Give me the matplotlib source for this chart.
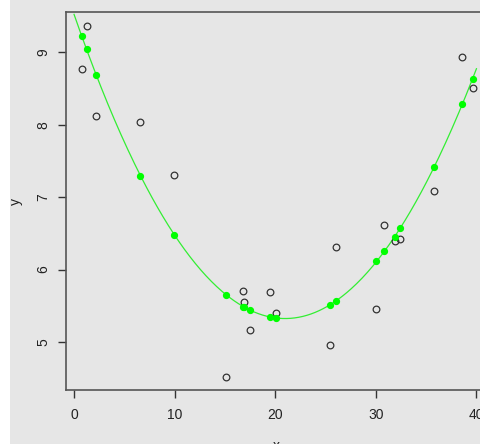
import numpy as np
import matplotlib
matplotlib.use("Agg")
import matplotlib.pyplot as plt
from matplotlib.patches import Rectangle

BG = "#e6e6e6"
AXIS_COLOR = "#555555"
TEXT_COLOR = "#222222"

# observed points (open circles)
x_obs = [0.76, 1.26, 2.22, 6.59, 9.97, 15.11, 16.83, 16.87, 17.50, 19.51,
         20.11, 25.42, 26.07, 30.05, 30.82, 31.88, 32.44, 35.79, 38.60, 39.63]
y_obs = [8.765, 9.363, 8.124, 8.033, 7.309, 4.519, 5.703, 5.551, 5.160, 5.685,
         5.399, 4.957, 6.311, 5.459, 6.611, 6.394, 6.417, 7.080, 8.935, 8.503]

# fitted values (filled green points)
y_fit = [9.221, 9.046, 8.682, 7.296, 6.477, 5.652, 5.490, 5.482, 5.441, 5.340,
         5.330, 5.511, 5.569, 6.113, 6.251, 6.453, 6.577, 7.412, 8.282, 8.635]

x_ticks = [0, 10, 20, 30, 40]
y_ticks = [5, 6, 7, 8, 9]

plt.rcParams["font.family"] = ["Liberation Sans", "DejaVu Sans"]

fig = plt.figure(figsize=(4.8, 4.44), dpi=100)
fig.patch.set_facecolor(BG)
# white strip down the left edge
fig.patches.append(Rectangle((0, 0), 10 / 480, 1, transform=fig.transFigure,
                             facecolor="white", edgecolor="none", zorder=0))

ax = fig.add_axes([66 / 480, 54 / 444, 421 / 480, 378 / 444])
ax.set_facecolor(BG)

# quadratic fit of the observed points, drawn as a smooth line
coef = np.polyfit(x_obs, y_obs, 2)
xs = np.linspace(0, 40, 300)
ax.plot(xs, np.polyval(coef, xs), color="#33ee33", lw=0.9, zorder=2)

ax.plot(x_obs, y_obs, "o", ms=4.8, mfc="none", mec="#333333", mew=0.9,
        zorder=3)
ax.plot(x_obs, y_fit, "o", ms=4.2, color="#00ff00", mec="#00ff00", zorder=4)

ax.set_xlim(-0.8, 41.05)
ax.set_ylim(4.337, 9.557)
ax.set_xticks(x_ticks)
ax.set_yticks(y_ticks)
ax.set_yticklabels([str(t) for t in y_ticks], rotation=90, va="center")

for s in ax.spines.values():
    s.set_color(AXIS_COLOR)
    s.set_linewidth(1.2)
ax.tick_params(axis="both", direction="out", length=6, width=1,
               color="#333333", labelcolor=TEXT_COLOR, labelsize=10)
ax.tick_params(axis="x", pad=7)
ax.tick_params(axis="y", pad=5)

ax.set_xlabel("x", fontsize=10, color=TEXT_COLOR, labelpad=12)
ax.set_ylabel("y", fontsize=10, color=TEXT_COLOR, labelpad=10)

fig.savefig("out.png", dpi=100, facecolor=BG)
